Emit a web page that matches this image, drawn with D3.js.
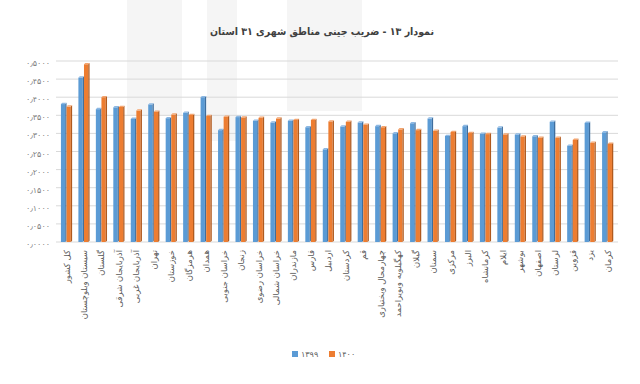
<!DOCTYPE html>
<html><head><meta charset="utf-8">
<script src="https://cdn.jsdelivr.net/npm/d3@7"></script>
<style>body{margin:0;background:#fff}svg{display:block}text{font-family:"DejaVu Sans",sans-serif}</style>
</head><body><svg id="c" width="640" height="384"></svg>
<script>
const title = "نمودار ۱۳ - ضریب جینی مناطق شهری ۳۱ استان";
const categories = ["کل کشور","سیستان وبلوچستان","گلستان","آذربایجان شرقی","آذربایجان غربی","تهران","خوزستان","هرمزگان","همدان","خراسان جنوبی","زنجان","خراسان رضوی","خراسان شمالی","مازندران","فارس","اردبیل","کردستان","قم","چهارمحال وبختیاری","کهگیلویه وبویراحمد","گیلان","سمنان","مرکزی","البرز","کرمانشاه","ایلام","بوشهر","اصفهان","لرستان","قزوین","یزد","کرمان"];
const series1399 = [0.381,0.454,0.367,0.372,0.340,0.380,0.342,0.357,0.400,0.309,0.345,0.335,0.330,0.335,0.317,0.256,0.319,0.330,0.320,0.300,0.328,0.341,0.293,0.320,0.299,0.316,0.297,0.292,0.332,0.266,0.329,0.303];
const series1400 = [0.374,0.491,0.400,0.373,0.363,0.360,0.352,0.351,0.348,0.346,0.344,0.343,0.341,0.337,0.337,0.333,0.332,0.324,0.317,0.311,0.309,0.307,0.304,0.301,0.298,0.297,0.291,0.288,0.288,0.282,0.274,0.271];
const seriesNames = ["۱۳۹۹","۱۴۰۰"];
const tickValues = [0,0.05,0.1,0.15,0.2,0.25,0.3,0.35,0.4,0.45,0.5];
const tickLabels = ["۰٫۰۰۰۰","۰٫۰۵۰۰","۰٫۱۰۰۰","۰٫۱۵۰۰","۰٫۲۰۰۰","۰٫۲۵۰۰","۰٫۳۰۰۰","۰٫۳۵۰۰","۰٫۴۰۰۰","۰٫۴۵۰۰","۰٫۵۰۰۰"];

const colors = ["#5B9BD5","#ED7D31"];
const sides = ["#3E6E9E","#B05A1E"];
const tops = ["#8DB8E3","#F4A46E"];

const svg = d3.select("#c");
// faint watermark bands
const wm = svg.append("g").attr("fill","#f5f5f5");
[[127,55,116],[207,30,141],[287,75,111]].forEach(r=>wm.append("rect").attr("x",r[0]).attr("y",0).attr("width",r[1]).attr("height",r[2]));

svg.append("text").attr("x",322).attr("y",35).attr("text-anchor","middle")
  .attr("font-size",10.5).attr("font-weight","bold").attr("fill","#404040")
  .style("font-family","'DejaVu Sans Condensed','DejaVu Sans',sans-serif").text(title);

const x = d3.scaleBand().domain(categories).range([57.8,616.4]).paddingInner(0.36).paddingOuter(0.18);
const xs = d3.scaleBand().domain([0,1]).range([0,x.bandwidth()]).padding(0);
const y = d3.scaleLinear().domain([0,0.5]).range([242,61]);

// gridlines
svg.append("g").selectAll("line").data(tickValues).join("line")
  .attr("x1",56).attr("x2",618).attr("y1",d=>y(d)).attr("y2",d=>y(d))
  .attr("stroke","#d9d9d9").attr("stroke-width",1);

// y labels
const ya = d3.axisLeft(y).tickValues(tickValues).tickFormat((d,i)=>tickLabels[i]).tickSize(0).tickPadding(0);
const yg = svg.append("g").attr("transform","translate(50,2)").call(ya);
yg.select(".domain").remove();
yg.selectAll("text").attr("font-size",8).attr("fill","#7f7f7f").style("font-family","DejaVu Sans");

const d = 1.3;
const all = [series1399, series1400];
const g = svg.append("g");
all.forEach((s,si)=>{
  s.forEach((v,i)=>{
    const x0 = x(categories[i]) + xs(si);
    const w = xs.bandwidth() - d;
    const yt = y(v), yb = y(0);
    g.append("rect").attr("x",x0).attr("y",yt).attr("width",w).attr("height",yb-yt).attr("fill",colors[si]);
    g.append("polygon").attr("points",`${x0+w},${yt} ${x0+w+d},${yt-d} ${x0+w+d},${yb-d} ${x0+w},${yb}`).attr("fill",sides[si]);
    g.append("polygon").attr("points",`${x0},${yt} ${x0+d},${yt-d} ${x0+w+d},${yt-d} ${x0+w},${yt}`).attr("fill",tops[si]);
  });
});

// x labels
const xa = d3.axisBottom(x).tickSize(0).tickPadding(0);
const xg = svg.append("g").attr("transform","translate(0,250)").call(xa);
xg.select(".domain").remove();
xg.selectAll("text").attr("transform","rotate(-90)").attr("text-anchor","end")
  .attr("x",0).attr("y",0).attr("dy","0.35em").attr("font-size",8.5).attr("fill","#595959").style("font-family","DejaVu Sans");

// legend
const lg = svg.append("g").attr("transform","translate(292,355)");
seriesNames.forEach((n,i)=>{
  const gx = i*37;
  lg.append("rect").attr("x",gx).attr("y",-4).attr("width",6).attr("height",6).attr("fill",colors[i]);
  lg.append("text").attr("x",gx+9).attr("y",2).attr("font-size",8).attr("fill","#595959").text(n);
});
</script></body></html>
